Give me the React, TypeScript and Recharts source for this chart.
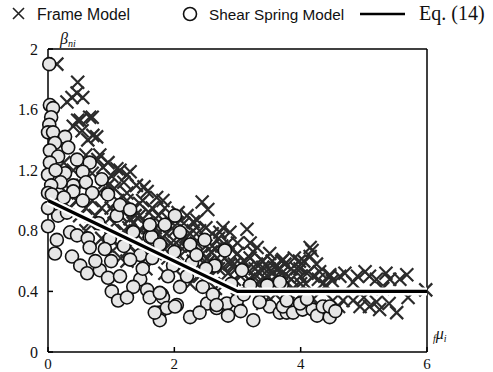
import {
  ReferenceLine,
  Scatter,
  ScatterChart,
  XAxis,
  YAxis,
} from "recharts";

// Frame Model results (x = fμi, y = βni)
const frameModel: [number, number][] = [
  [0.14, 1.9], [0.47, 1.78], [0.46, 1.71], [0.38, 1.68], [0.3, 1.65], [0.55, 1.68],
  [0.7, 1.55], [0.47, 1.53], [0.4, 1.49], [0.54, 1.46], [0.71, 1.43], [0.63, 1.4],
  [0.77, 1.42], [0.82, 1.3], [0.79, 1.27], [0.87, 1.22], [1.14, 1.2], [1.25, 1.17],
  [1.3, 1.19], [1.09, 1.21], [1.01, 1.16], [1.57, 1.06], [1.52, 1.09], [0.66, 1.55],
  [0.51, 1.53], [0.95, 1.25], [1.2, 1.12], [1.4, 1.1],
  [1.82, 1.0], [2.44, 0.99], [2.53, 0.94], [2.06, 0.92], [2.36, 0.87], [1.93, 0.83],
  [2.77, 0.82], [3.15, 0.81], [1.72, 1.02], [2.3, 0.86], [2.72, 0.79], [2.88, 0.79],
  [3.2, 0.72], [3.31, 0.69], [4.15, 0.69], [4.15, 0.63], [3.72, 0.61], [4.46, 0.5],
  [4.62, 0.5], [3.94, 0.55], [3.51, 0.65],
  [4.18, 0.67], [3.99, 0.55], [4.1, 0.52], [4.3, 0.53], [4.46, 0.51], [5.02, 0.53],
  [5.09, 0.5], [5.41, 0.48], [5.68, 0.51], [5.57, 0.48], [4.83, 0.46], [4.83, 0.34],
  [4.94, 0.3], [5.09, 0.3], [5.25, 0.28], [5.52, 0.26], [4.67, 0.34], [4.51, 0.34],
  [5.2, 0.33], [5.7, 0.36], [5.98, 0.41], [5.3, 0.42], [4.4, 0.44], [4.0, 0.45],
  [3.8, 0.5], [3.6, 0.5],
  [0.15, 1.15], [0.2, 1.0], [0.3, 1.05], [0.35, 0.95], [0.45, 1.0], [0.5, 0.9],
  [0.55, 1.1], [0.6, 0.95], [0.65, 0.85], [0.7, 1.0], [0.75, 0.9], [0.8, 1.05],
  [0.85, 0.95], [0.9, 0.85], [0.95, 1.1], [1.0, 0.95], [1.05, 0.85], [1.1, 1.0],
  [1.15, 0.9], [1.2, 0.8], [1.25, 1.0], [1.3, 0.88], [1.35, 0.95], [1.4, 0.78],
  [1.45, 0.9], [1.5, 1.0], [1.55, 0.85], [1.6, 0.72], [1.65, 0.95], [1.7, 0.82],
  [1.75, 0.9], [1.8, 0.75], [1.85, 0.68], [1.9, 0.88], [1.95, 0.72], [2.0, 0.8],
  [2.05, 0.65], [2.1, 0.75], [2.15, 0.85], [2.2, 0.68], [2.25, 0.78], [2.3, 0.6],
  [2.35, 0.72], [2.4, 0.8], [2.45, 0.65], [2.5, 0.7], [2.55, 0.6], [2.6, 0.78],
  [2.65, 0.68], [2.7, 0.55], [2.75, 0.7], [2.8, 0.62], [2.85, 0.52], [2.9, 0.68],
  [2.95, 0.58], [3.0, 0.65], [3.05, 0.5], [3.1, 0.6], [3.15, 0.55], [3.2, 0.62],
  [3.25, 0.5], [3.3, 0.58], [3.35, 0.52], [3.4, 0.6], [3.45, 0.48], [3.5, 0.55],
  [3.55, 0.6], [3.6, 0.45], [3.65, 0.55], [3.7, 0.52], [3.75, 0.58], [3.85, 0.48],
  [3.9, 0.62], [4.05, 0.6], [4.25, 0.58], [4.35, 0.45], [1.0, 0.75], [1.3, 0.7],
  [1.7, 0.65], [0.6, 0.8], [0.85, 0.75], [1.15, 0.62], [1.5, 0.6], [2.0, 0.55],
  [2.4, 0.5], [2.8, 0.45], [3.2, 0.42], [3.6, 0.38], [4.0, 0.38], [3.8, 0.32],
  [4.2, 0.35], [4.3, 0.3],
  [0.25, 1.25], [0.4, 1.2], [0.6, 1.3], [0.7, 1.18], [0.9, 1.12], [1.05, 1.08],
  [1.25, 1.05], [1.35, 0.85], [1.45, 0.98], [1.6, 0.92], [1.75, 0.78], [1.85, 0.95],
  [2.05, 0.85], [2.2, 0.9], [2.3, 0.8], [2.5, 0.82], [2.6, 0.7], [2.7, 0.75],
  [2.85, 0.72], [3.0, 0.72], [3.05, 0.58], [3.25, 0.66], [3.4, 0.56], [3.55, 0.52],
  [3.7, 0.6], [3.85, 0.55], [4.0, 0.5], [4.2, 0.5], [4.5, 0.47], [4.7, 0.52],
  [4.9, 0.5], [5.2, 0.48], [5.35, 0.52], [4.6, 0.3], [5.4, 0.32], [5.0, 0.36],
  [1.1, 0.7], [1.4, 0.65], [1.9, 0.62], [2.15, 0.58], [2.55, 0.5], [2.95, 0.48],
  [3.3, 0.45], [3.45, 0.38],
  [1.05, 0.92], [1.18, 0.95], [1.28, 0.82], [1.38, 0.9], [1.48, 0.8], [1.58, 0.82],
  [1.68, 0.76], [1.78, 0.85], [1.88, 0.78], [1.98, 0.7], [2.08, 0.7], [2.18, 0.76],
  [2.28, 0.7], [2.38, 0.62], [2.48, 0.6], [2.58, 0.66], [2.68, 0.62], [2.78, 0.56],
  [2.88, 0.58], [2.98, 0.55], [3.08, 0.52], [3.18, 0.48], [3.28, 0.55], [3.38, 0.47],
  [3.48, 0.5], [3.58, 0.56], [3.68, 0.48], [3.78, 0.45], [3.88, 0.42], [3.98, 0.6],
  [4.08, 0.45], [4.28, 0.48], [0.95, 0.7], [1.25, 0.6], [1.55, 0.55], [1.85, 0.52],
  [2.25, 0.45], [2.65, 0.42], [3.0, 0.35], [3.4, 0.32],
];

// Shear Spring Model results
const shearSpringModel: [number, number][] = [
  [0.02, 1.9], [0.03, 1.63], [0.08, 1.61], [0.05, 1.55], [0.02, 1.5], [0.0, 1.45],
  [0.08, 1.45], [0.27, 1.42], [0.11, 1.38], [0.03, 1.33], [0.32, 1.35], [0.16, 1.29],
  [0.46, 1.27], [0.66, 1.25], [0.03, 1.25], [0.55, 1.19], [0.27, 1.18], [0.0, 1.17],
  [0.12, 1.2], [0.4, 1.1], [0.2, 1.12], [0.05, 1.1], [0.6, 1.12], [0.85, 1.14],
  [0.0, 1.05], [0.06, 1.04], [0.4, 1.06], [0.25, 1.02], [0.7, 1.05], [0.55, 1.0],
  [0.95, 1.04], [0.16, 0.9], [0.0, 0.95], [0.3, 0.92], [0.0, 0.83], [0.14, 0.74],
  [0.11, 0.65], [0.35, 0.79], [0.46, 0.77], [0.63, 0.75], [0.38, 0.63], [0.51, 0.57],
  [0.66, 0.69], [0.62, 0.52], [0.82, 0.54], [0.95, 0.49], [1.01, 0.4], [1.11, 0.34],
  [0.98, 0.75], [1.09, 0.9], [1.14, 0.97], [1.3, 0.94], [1.35, 0.79], [1.61, 0.76],
  [1.46, 0.64], [1.3, 0.61], [1.14, 0.5], [1.46, 0.48], [1.57, 0.41], [1.61, 0.36],
  [1.77, 0.26], [1.8, 0.38], [1.35, 0.43], [1.25, 0.36], [0.8, 0.85], [0.9, 0.68],
  [1.2, 0.7], [1.0, 0.6], [0.75, 0.6],
  [1.64, 0.76], [2.09, 0.79], [2.28, 0.59], [1.98, 0.57], [2.45, 0.43], [2.09, 0.43],
  [1.82, 0.36], [1.88, 0.29], [2.04, 0.31], [2.25, 0.23], [2.52, 0.32], [2.61, 0.38],
  [2.67, 0.29], [2.83, 0.32], [2.99, 0.34], [3.07, 0.54], [3.2, 0.44], [3.47, 0.44],
  [3.7, 0.44], [3.25, 0.21], [3.51, 0.3], [3.67, 0.26], [3.78, 0.26], [3.72, 0.3],
  [3.88, 0.26], [4.03, 0.28], [4.19, 0.28], [4.26, 0.24], [4.35, 0.3], [4.46, 0.23],
  [4.46, 0.3], [3.78, 0.34], [3.99, 0.32], [3.67, 0.46], [1.77, 0.21], [1.69, 0.26],
  [2.01, 0.3], [1.77, 0.39], [2.67, 0.31], [1.85, 0.84], [2.01, 0.9], [1.77, 0.71],
  [2.25, 0.71], [2.48, 0.74], [2.8, 0.67], [2.64, 0.57], [1.61, 0.84], [1.5, 0.55],
  [2.2, 0.5], [2.5, 0.55], [2.9, 0.45], [3.1, 0.38], [3.35, 0.33], [4.1, 0.35],
  [4.55, 0.27], [2.4, 0.26], [2.85, 0.24], [3.05, 0.27], [1.9, 0.5], [1.65, 0.62],
  [2.0, 0.66], [2.35, 0.64],
];

// Eq. (14): bilinear relation
const eq14: [number, number][] = [
  [0, 1.0],
  [3.0, 0.4],
  [6, 0.4],
];

const xTicks = [0, 2, 4, 6];
const yTicks = [0, 0.4, 0.8, 1.2, 1.6, 2];

const toPts = (arr: [number, number][]) => arr.map(([x, y]) => ({ x, y }));

const SERIF = "'Liberation Serif', 'Times New Roman', serif";
const SANS = "'Liberation Sans', Arial, sans-serif";

const Cross = (p: any) => {
  const { cx, cy } = p;
  const s = 6.5;
  return (
    <path
      d={`M${cx - s},${cy - s}L${cx + s},${cy + s}M${cx + s},${cy - s}L${cx - s},${cy + s}`}
      stroke="#2b2b2b"
      strokeWidth={2.2}
      fill="none"
    />
  );
};

const Ring = (p: any) => (
  <circle cx={p.cx} cy={p.cy} r={6.5} fill="#e6e6e6" stroke="#111" strokeWidth={1.6} />
);

const NoDot = () => <g />;

function Legend() {
  return (
    <svg
      width={493}
      height={30}
      style={{ position: "absolute", left: 0, top: 0 }}
    >
      <path d="M13,8L24,19M24,8L13,19" stroke="#222" strokeWidth={1.6} />
      <text x={37} y={20} fontFamily={SANS} fontSize={15.8} fill="#111">
        Frame Model
      </text>
      <circle cx={190} cy={14} r={6.5} fill="#fff" stroke="#111" strokeWidth={1.6} />
      <text x={209} y={20} fontFamily={SANS} fontSize={15.3} fill="#111">
        Shear Spring Model
      </text>
      <line x1={360} y1={14} x2={405} y2={14} stroke="#000" strokeWidth={2.5} />
      <text x={419} y={20} fontFamily={SERIF} fontSize={20} fill="#111">
        Eq. (14)
      </text>
    </svg>
  );
}

export default function App() {
  return (
    <div
      style={{
        position: "fixed",
        left: 0,
        top: 0,
        width: 493,
        height: 372,
        background: "#fff",
        overflow: "hidden",
      }}
    >
      <ScatterChart
        width={493}
        height={372}
        margin={{ top: 49, right: 66, bottom: 19, left: 47 }}
      >
        <XAxis
          type="number"
          dataKey="x"
          domain={[0, 6]}
          ticks={xTicks}
          height={1}
          stroke="#000"
          strokeWidth={1.5}
          tickSize={-5}
          tickMargin={11}
          tick={{ fill: "#111", fontFamily: SERIF, fontSize: 15 }}
          label={{
            content: (props: any) => {
              const vb = props.viewBox;
              return (
                <text
                  x={vb.x + vb.width + 6}
                  y={vb.y - 13}
                  fontFamily={SERIF}
                  fill="#111"
                >
                  <tspan fontSize={10} fontStyle="italic" dy={3}>f</tspan>
                  <tspan fontSize={16} fontStyle="italic" dy={-3}>μ</tspan>
                  <tspan fontSize={10} fontStyle="italic" dy={3}>i</tspan>
                </text>
              );
            },
          }}
        />
        <YAxis
          type="number"
          dataKey="y"
          domain={[0, 2]}
          ticks={yTicks}
          width={1}
          stroke="#000"
          strokeWidth={1.5}
          tickSize={-5}
          tickMargin={15}
          tick={{ fill: "#111", fontFamily: SERIF, fontSize: 16 }}
          label={{
            content: (props: any) => {
              const vb = props.viewBox;
              return (
                <text x={vb.x + 13} y={vb.y - 5} fontFamily={SERIF} fill="#111">
                  <tspan fontSize={16} fontStyle="italic">β</tspan>
                  <tspan fontSize={10} fontStyle="italic" dy={3}>ni</tspan>
                </text>
              );
            },
          }}
        />
        <ReferenceLine y={2} stroke="#000" strokeWidth={1.5} />
        <ReferenceLine x={6} stroke="#000" strokeWidth={1.5} />
        <Scatter
          name="Frame Model"
          data={toPts(frameModel)}
          shape={Cross}
          isAnimationActive={false}
        />
        <Scatter
          name="Shear Spring Model"
          data={toPts(shearSpringModel)}
          shape={Ring}
          isAnimationActive={false}
        />
        <Scatter
          name="Eq. (14) halo"
          data={toPts(eq14)}
          line={{ stroke: "#fff", strokeWidth: 8 }}
          lineJointType="linear"
          shape={NoDot}
          isAnimationActive={false}
        />
        <Scatter
          name="Eq. (14)"
          data={toPts(eq14)}
          line={{ stroke: "#000", strokeWidth: 3.3 }}
          lineJointType="linear"
          shape={NoDot}
          isAnimationActive={false}
        />
      </ScatterChart>
      <Legend />
    </div>
  );
}
